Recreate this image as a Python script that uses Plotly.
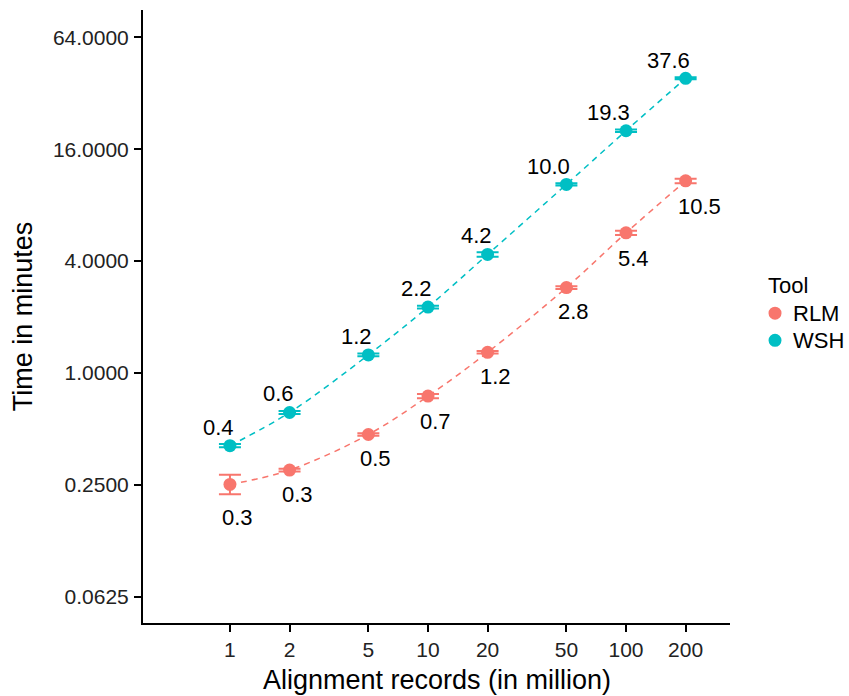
import math
import plotly.graph_objects as go

records = [1, 2, 5, 10, 20, 50, 100, 200]

rlm_mean = [0.251, 0.300, 0.466, 0.75, 1.29, 2.88, 5.67, 10.8]
rlm_low = [0.222, 0.295, 0.459, 0.73, 1.27, 2.83, 5.52, 10.5]
rlm_high = [0.283, 0.305, 0.473, 0.77, 1.31, 2.93, 5.82, 11.1]
rlm_labels = ["0.3", "0.3", "0.5", "0.7", "1.2", "2.8", "5.4", "10.5"]

wsh_mean = [0.406, 0.612, 1.25, 2.26, 4.34, 10.34, 20.1, 38.5]
wsh_low = [0.398, 0.600, 1.23, 2.22, 4.22, 10.2, 19.8, 38.0]
wsh_high = [0.414, 0.624, 1.27, 2.30, 4.46, 10.5, 20.4, 39.0]
wsh_labels = ["0.4", "0.6", "1.2", "2.2", "4.2", "10.0", "19.3", "37.6"]

tools = ["RLM", "WSH"]
x_ticks = [1, 2, 5, 10, 20, 50, 100, 200]
y_ticks = [0.0625, 0.25, 1, 4, 16, 64]
y_tick_text = ["0.0625", "0.2500", "1.0000", "4.0000", "16.0000", "64.0000"]
x_title = "Alignment records (in million)"
y_title = "Time in minutes"

RLM_COLOR = "#F8766D"
WSH_COLOR = "#00BFC4"
COLORS = [RLM_COLOR, WSH_COLOR]
FONT = "Liberation Sans, Arial, Helvetica, sans-serif"

fig = go.Figure()

for name, mean, low, high, color in [
    ("RLM", rlm_mean, rlm_low, rlm_high, RLM_COLOR),
    ("WSH", wsh_mean, wsh_low, wsh_high, WSH_COLOR),
]:
    fig.add_trace(go.Scatter(
        x=records, y=mean, mode="lines", showlegend=False,
        line=dict(color=color, width=1.5, dash="6px,5px", shape="spline", smoothing=1.0),
        hoverinfo="skip",
    ))
    fig.add_trace(go.Scatter(
        x=records, y=mean, mode="markers", name=name, showlegend=False,
        marker=dict(color=color, size=13),
        error_y=dict(type="data", symmetric=False,
                     array=[h - m for h, m in zip(high, mean)],
                     arrayminus=[m - l for m, l in zip(mean, low)],
                     color=color, thickness=2, width=11),
    ))

annotations = []
for x, hi, lab in zip(records, wsh_high, wsh_labels):
    annotations.append(dict(x=math.log10(x), y=math.log10(hi), text=lab, showarrow=False,
                            xanchor="right", yanchor="middle", xshift=6, yshift=17,
                            font=dict(family=FONT, size=22, color="black")))
for x, lo, lab in zip(records, rlm_low, rlm_labels):
    annotations.append(dict(x=math.log10(x), y=math.log10(lo), text=lab, showarrow=False,
                            xanchor="left", yanchor="middle", xshift=-10, yshift=-23,
                            font=dict(family=FONT, size=22, color="black")))

# x-axis title
annotations.append(dict(xref="paper", yref="paper", x=0.5, y=0, text=x_title,
                        showarrow=False, xanchor="center", yanchor="middle", yshift=-57,
                        font=dict(family=FONT, size=27, color="black")))

# legend (drawn manually to match ggplot spacing)
shapes = []
annotations.append(dict(xref="paper", yref="paper", x=1.0647, y=0.5512, text="Tool",
                        showarrow=False, xanchor="left", yanchor="middle", xshift=-2,
                        font=dict(family=FONT, size=22, color="black")))
leg_y = [0.5055, 0.4612]
for name, color, ly in zip(tools, COLORS, leg_y):
    shapes.append(dict(type="circle", xref="paper", yref="paper",
                       xsizemode="pixel", ysizemode="pixel",
                       xanchor=1.0767, yanchor=ly, x0=-6.5, x1=6.5, y0=-6.5, y1=6.5,
                       fillcolor=color, line=dict(width=0)))
    annotations.append(dict(xref="paper", yref="paper", x=1.1073, y=ly, text=name,
                            showarrow=False, xanchor="left", yanchor="middle", xshift=-2,
                            font=dict(family=FONT, size=22, color="black")))

fig.update_layout(
    width=849, height=696,
    margin=dict(l=143, r=119, t=10, b=73, autoexpand=False),
    paper_bgcolor="white", plot_bgcolor="white",
    font=dict(family=FONT, size=21, color="black"),
    annotations=annotations, shapes=shapes, showlegend=False,
)
fig.update_xaxes(
    type="log", range=[-0.439, 2.525], tickvals=x_ticks, ticktext=[str(v) for v in x_ticks],
    showgrid=False, zeroline=False, showline=True, linecolor="black", linewidth=2,
    ticks="outside", ticklen=7, tickwidth=2, tickcolor="black",
    tickfont=dict(size=21, color="#222"), automargin=False,
)
fig.update_yaxes(
    type="log", range=[-1.346, 1.953], tickvals=y_ticks, ticktext=y_tick_text,
    showgrid=False, zeroline=False, showline=True, linecolor="black", linewidth=2,
    ticks="outside", ticklen=7, tickwidth=2, tickcolor="black",
    tickfont=dict(size=21, color="#222"), automargin=False, ticklabelstandoff=1,
    title=dict(text=y_title, font=dict(size=27), standoff=12),
)

fig.write_html("out.html")
